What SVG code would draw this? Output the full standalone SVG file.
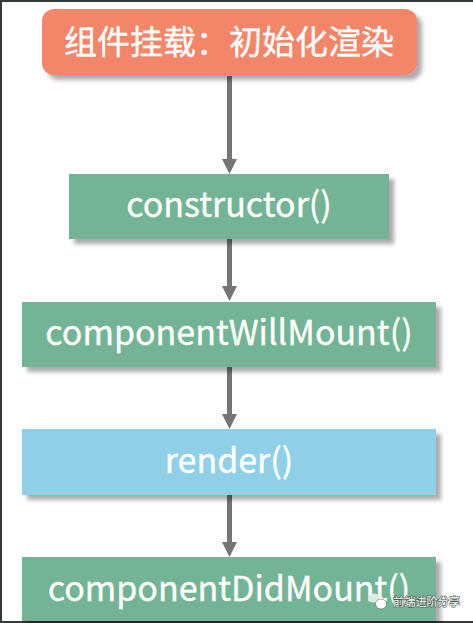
<svg xmlns="http://www.w3.org/2000/svg" width="473" height="623" viewBox="0 0 473 623">
<style>
.t{fill:#fff;stroke:#fff;stroke-width:.35;font-family:"Noto Sans CJK SC","Noto Sans",sans-serif;font-size:34px;text-anchor:middle}
.g{fill:#72b495}
.e{stroke:#757575;stroke-width:5;fill:none;marker-end:url(#a)}
</style>
<defs>
<marker id="a" markerUnits="userSpaceOnUse" markerWidth="15" markerHeight="15" refX="5" refY="7.500" orient="auto"><path d="M0 0L15 7.500L0 15Z" fill="#757575"/></marker>
<filter id="s" x="-10%" y="-20%" width="120%" height="150%"><feDropShadow dx="5" dy="5" stdDeviation="2" flood-color="#000" flood-opacity=".33"/></filter>
</defs>
<rect width="473" height="623" fill="#fff"/>
<path d="M0 0H473V2H2V621H473V623H0Z" fill="#33383c"/>
<g id="connectors">
<path class="e" d="M229.500 76V164"/>
<path class="e" d="M229.500 239V291"/>
<path class="e" d="M229.500 367V419"/>
<path class="e" d="M229.500 495V547"/>
</g>
<g id="mount"><rect x="42" y="9" width="375" height="66" rx="12" fill="#f38567" filter="url(#s)"/><text class="t" x="229" y="54" style="font-size:33px">组件挂载：初始化渲染</text></g>
<g id="constructor"><rect class="g" x="69" y="174" width="320" height="65" filter="url(#s)"/><text class="t" x="229" y="217">constructor()</text></g>
<g id="willMount"><rect class="g" x="22" y="302" width="414" height="65" filter="url(#s)"/><text class="t" x="229" y="345">componentWillMount()</text></g>
<g id="render"><rect x="22" y="429" width="414" height="66" fill="#90cfe8" filter="url(#s)"/><text class="t" x="229" y="473">render()</text></g>
<g id="didMount"><rect class="g" x="22" y="557" width="414" height="64" filter="url(#s)"/><text class="t" x="229" y="601">componentDidMount()</text></g>
<g id="watermark"><ellipse cx="374" cy="598" rx="5.500" ry="4.500" fill="#dfe9e4"/><ellipse cx="381" cy="604" rx="5.500" ry="5" fill="#fff" stroke="#4a5a52" stroke-width=".5"/>
<text x="393" y="606" font-family="'Noto Sans CJK SC',sans-serif" font-size="11.200" fill="#fff" stroke="#4a5a52" stroke-width="1.200" paint-order="stroke">前端进阶分享</text></g>
</svg>
